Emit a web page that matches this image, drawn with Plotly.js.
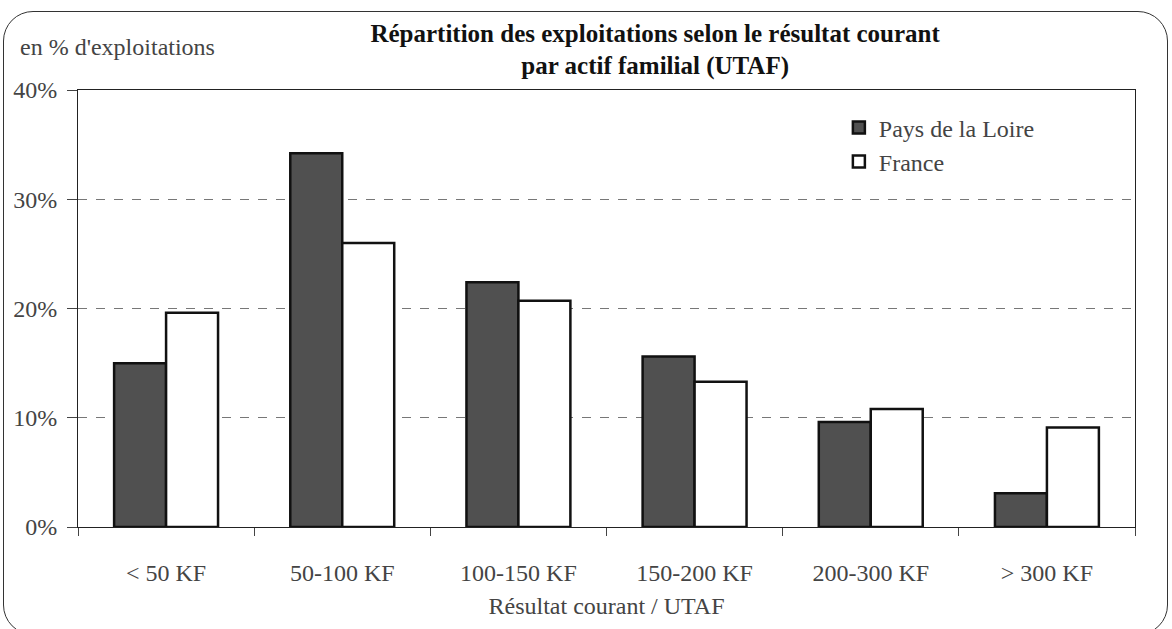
<!DOCTYPE html>
<html><head><meta charset="utf-8">
<script src="https://cdn.plot.ly/plotly-3.0.1.min.js"></script>
<style>
body{margin:0;background:#fff}
#wrap{position:relative;width:1172px;height:629px;overflow:hidden}
#frame{position:absolute;left:3px;top:11px;width:1163px;height:622px;border:1.5px solid #333;border-radius:30px;pointer-events:none}
</style>
</head><body>
<div id="wrap"><div id="chart" style="width:1172px;height:629px"></div><div id="frame"></div></div>
<script>
const categories = ['< 50 KF', '50-100 KF', '100-150 KF', '150-200 KF', '200-300 KF', '> 300 KF'];
const paysDeLaLoire = [15.0, 34.2, 22.4, 15.6, 9.6, 3.1];
const france = [19.6, 26.0, 20.7, 13.3, 10.8, 9.1];
const yTickValues = [0, 10, 20, 30, 40];
const yTickLabels = ['0%', '10%', '20%', '30%', '40%'];
const seriesNames = ['Pays de la Loire', 'France'];

const FONT = 'Times New Roman';

const traces = [
  {
    type: 'bar', name: seriesNames[0], x: categories, y: paysDeLaLoire,
    marker: {color: '#505050', line: {color: '#111', width: 2.5}},
    hoverinfo: 'x+y'
  },
  {
    type: 'bar', name: seriesNames[1], x: categories, y: france,
    marker: {color: '#ffffff', line: {color: '#111', width: 2.5}},
    hoverinfo: 'x+y'
  }
];

const layout = {
  width: 1172, height: 629,
  paper_bgcolor: '#ffffff', plot_bgcolor: '#ffffff',
  margin: {l: 78, r: 37, t: 90, b: 102},
  barmode: 'group', bargap: 0.41, bargroupgap: 0,
  title: {
    text: 'Répartition des exploitations selon le résultat courant<br>par actif familial (UTAF)',
    font: {family: FONT, size: 25, color: '#111', weight: 'bold'},
    x: 0.559, xanchor: 'center', xref: 'container',
    y: 0.934, yanchor: 'top', yref: 'container'
  },
  xaxis: {
    type: 'category',
    showline: true, mirror: true, linecolor: '#222', linewidth: 1,
    ticks: 'outside', tickson: 'boundaries', ticklen: 8, tickcolor: '#444',
    showgrid: false,
    tickfont: {family: FONT, size: 24},
    ticklabelstandoff: 24,
    title: {text: 'Résultat courant / UTAF', font: {family: FONT, size: 24}, standoff: 12}
  },
  yaxis: {
    range: [0, 40],
    tickmode: 'array', tickvals: yTickValues, ticktext: yTickLabels,
    showgrid: true, gridcolor: '#777', griddash: 'dash', gridwidth: 1,
    showline: true, mirror: true, linecolor: '#222', linewidth: 1,
    ticks: 'outside', ticklen: 10, tickcolor: '#444',
    zeroline: false,
    tickfont: {family: FONT, size: 24},
    ticklabelstandoff: 5
  },
  legend: {
    x: 0.91, xanchor: 'right', y: 0.965, yanchor: 'top',
    bgcolor: 'rgba(0,0,0,0)', borderwidth: 0,
    font: {family: FONT, size: 24},
    traceorder: 'normal', tracegroupgap: 0
  },
  annotations: [
    {
      text: "en % d'exploitations", xref: 'paper', yref: 'paper',
      x: -0.057, xanchor: 'left', y: 1.098, yanchor: 'middle',
      showarrow: false, font: {family: FONT, size: 24}
    }
  ]
};

Plotly.newPlot('chart', traces, layout, {displayModeBar: false});
</script>
</body></html>
